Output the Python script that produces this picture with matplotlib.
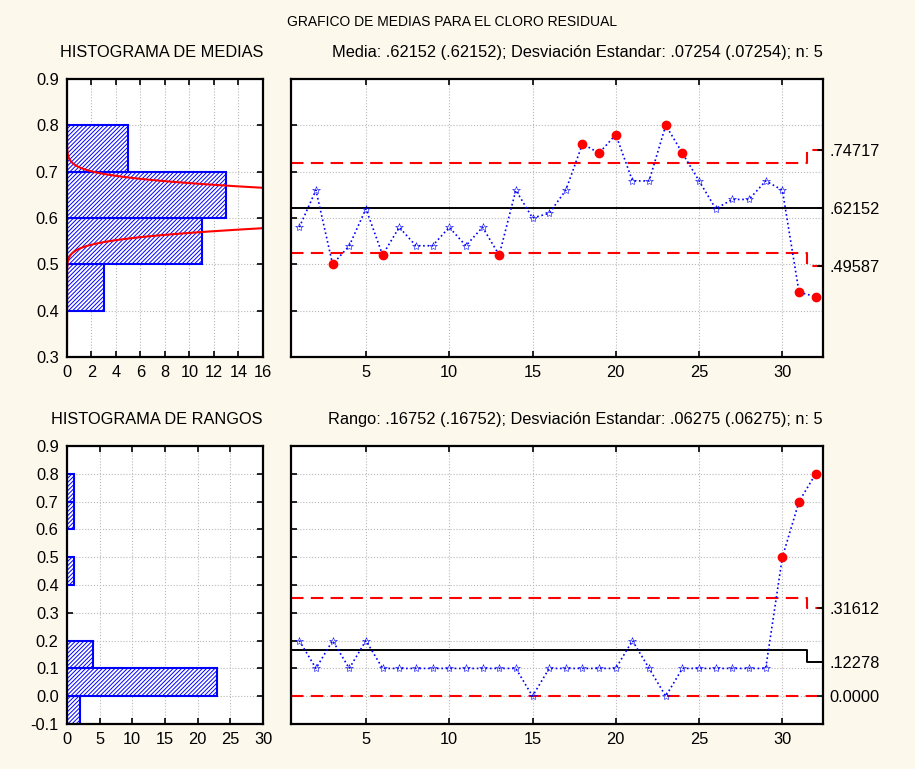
import numpy as np
import matplotlib
matplotlib.use("Agg")
import matplotlib.pyplot as plt

plt.rcParams['font.family'] = ['Liberation Sans', 'DejaVu Sans']
plt.rcParams['hatch.linewidth'] = 0.7
plt.rcParams['axes.unicode_minus'] = False

# sample means and ranges (32 subgroups)
samples = np.arange(1, 33)
means = [0.58, 0.66, 0.50, 0.54, 0.62, 0.52, 0.58, 0.54, 0.54, 0.58,
         0.54, 0.58, 0.52, 0.66, 0.60, 0.61, 0.66, 0.76, 0.74, 0.78,
         0.68, 0.68, 0.80, 0.74, 0.68, 0.62, 0.64, 0.64, 0.68, 0.66,
         0.44, 0.43]
ranges = [0.2, 0.1, 0.2, 0.1, 0.2, 0.1, 0.1, 0.1, 0.1, 0.1,
          0.1, 0.1, 0.1, 0.1, 0.0, 0.1, 0.1, 0.1, 0.1, 0.1,
          0.2, 0.1, 0.0, 0.1, 0.1, 0.1, 0.1, 0.1, 0.1, 0.5,
          0.7, 0.8]

# control limits (last subgroup has a different n)
limit_x = [0.5, 31.5, 32.42]
mean_ucl = [0.71819, 0.74717]
mean_cl = [0.62152, 0.62152]
mean_lcl = [0.52485, 0.49587]
range_ucl = [0.35413, 0.31612]
range_cl = [0.16752, 0.12278]
range_lcl = [0.0, 0.0]
mean_right_ticks = [0.74717, 0.62152, 0.49587]
mean_right_labels = [".74717", ".62152", ".49587"]
range_right_ticks = [0.31612, 0.12278, 0.0]
range_right_labels = [".31612", ".12278", "0.0000"]

# histograms
mean_bins = [0.4, 0.5, 0.6, 0.7]
mean_counts = [3, 11, 13, 5]
range_bins = [-0.1, 0.0, 0.1, 0.4, 0.6, 0.7]
range_counts = [2, 23, 4, 1, 1, 1]
mean_avg, mean_sd, n_sub = 0.62152, 0.07254, 5

BG = '#fdf8ec'
BLUE = '#0000ff'
RED = '#ff0000'
FS = 11.8


def style_axes(ax):
    for s in ax.spines.values():
        s.set_linewidth(1.6)
    ax.tick_params(direction='in', length=4, width=1.2, top=True, right=True,
                   labelsize=FS, pad=6)
    ax.grid(True, color='#b8b8b8', linestyle=':', linewidth=0.8)
    ax.set_axisbelow(True)


def draw_hist(ax, bins, counts, ylim, xlim, xticks):
    ax.barh(bins, counts, height=0.1, align='edge', left=0,
            color='white', edgecolor=BLUE, hatch='////////', linewidth=1.5)
    ax.set_ylim(ylim)
    ax.set_xlim(xlim)
    ax.set_xticks(xticks)
    ax.set_yticks(np.round(np.arange(ylim[0], ylim[1] + 0.001, 0.1), 1))
    style_axes(ax)


def draw_chart(ax, values, ucl, cl, lcl, ylim, rticks, rlabels, title):
    ax.step(limit_x, ucl + [ucl[-1]], where='post', color=RED, lw=1.5,
            dashes=(6, 3.5))
    ax.step(limit_x, lcl + [lcl[-1]], where='post', color=RED, lw=1.5,
            dashes=(6, 3.5))
    ax.step(limit_x, cl + [cl[-1]], where='post', color='black', lw=1.4)
    ax.plot(samples, values, color=BLUE, lw=1.2, linestyle=':',
            marker='*', ms=6, mfc='none', mec=BLUE, mew=0.4)
    # out-of-control points
    vals = np.array(values)
    up = np.array(ucl)[(samples > 31.5).astype(int)]
    lo = np.array(lcl)[(samples > 31.5).astype(int)]
    out = (vals > up) | (vals < lo)
    ax.plot(samples[out], vals[out], 'o', color=RED, ms=6, zorder=5)
    ax.set_xlim(0.5, 32.42)
    ax.set_ylim(ylim)
    ax.set_xticks([5, 10, 15, 20, 25, 30])
    ax.set_yticks(np.round(np.arange(ylim[0] + 0.1, ylim[1], 0.1), 1))
    ax.tick_params(labelleft=False)
    style_axes(ax)
    ax2 = ax.twinx()
    ax2.set_ylim(ylim)
    ax2.set_yticks(rticks)
    ax2.set_yticklabels(rlabels)
    ax2.tick_params(direction='in', length=4, width=1.2, labelsize=FS, pad=5)
    for s in ax2.spines.values():
        s.set_visible(False)
    ax.set_title(title, fontsize=FS, loc='right', pad=16)


fig = plt.figure(figsize=(9.15, 7.69), dpi=100, facecolor=BG)

ax_hm = fig.add_axes([0.0732, 0.5358, 0.2142, 0.3615])
ax_m = fig.add_axes([0.318, 0.5358, 0.5811, 0.3615])
ax_hr = fig.add_axes([0.0732, 0.0585, 0.2142, 0.3615])
ax_r = fig.add_axes([0.318, 0.0585, 0.5811, 0.3615])

draw_hist(ax_hm, mean_bins, mean_counts, (0.3, 0.9), (0, 16), range(0, 17, 2))
# fitted normal curve for the sample means
yy = np.linspace(0.3, 0.9, 400)
se = mean_sd / np.sqrt(n_sub)
expected = len(means) * 0.1 * np.exp(-0.5 * ((yy - mean_avg) / se) ** 2) / (se * np.sqrt(2 * np.pi))
ax_hm.plot(expected, yy, color=RED, lw=1.5, clip_on=True)
ax_hm.set_title("HISTOGRAMA DE MEDIAS", fontsize=FS, loc='right', pad=16)

draw_hist(ax_hr, range_bins, range_counts, (-0.1, 0.9), (0, 30), range(0, 31, 5))
ax_hr.set_title("HISTOGRAMA DE RANGOS", fontsize=FS, loc='right', pad=16)

draw_chart(ax_m, means, mean_ucl, mean_cl, mean_lcl, (0.3, 0.9),
           mean_right_ticks, mean_right_labels,
           "Media: .62152 (.62152); Desviación Estandar: .07254 (.07254); n: 5")
draw_chart(ax_r, ranges, range_ucl, range_cl, range_lcl, (-0.1, 0.9),
           range_right_ticks, range_right_labels,
           "Rango: .16752 (.16752); Desviación Estandar: .06275 (.06275); n: 5")

fig.text(0.494, 0.971, "GRAFICO DE MEDIAS PARA EL CLORO RESIDUAL",
         fontsize=10, ha='center', va='center')

fig.savefig("out.png", dpi=100, facecolor=BG)
